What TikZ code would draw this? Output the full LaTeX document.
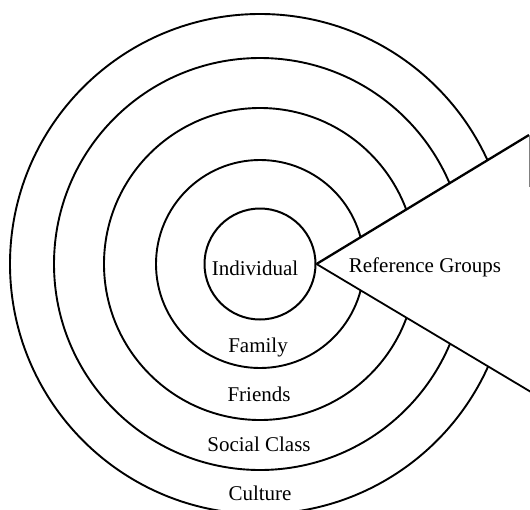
\documentclass[tikz,border=0pt]{standalone}
\usepackage{fontspec}
\setmainfont{Liberation Serif}
\begin{document}
\begin{tikzpicture}[x=1pt,y=-1pt,
  ring/.style={line width=1.9pt},
  wedgeline/.style={line width=1.8pt},
  lbl/.style={anchor=base,inner sep=0pt,font=\fontsize{21}{24}\selectfont}]
\useasboundingbox (0,0) rectangle (530,509);
% inner circle
\node[circle,draw,line width=2pt,minimum size=111pt,inner sep=0pt] (ind) at (260,264) {};
\node[lbl] (indt) at (255,275) {Individual};
% wedge end points
\coordinate (ut) at (529,135);
\coordinate (lt) at (531,392);
\coordinate (vb) at (529,187);
% rings, cut by the wedge
\begin{scope}[even odd rule]
  \clip (-20,-20) rectangle (560,540) (ind.east) -- (ut) -- (lt) -- cycle;
  \draw[ring] (260,264) circle[radius=104pt];
  \draw[ring] (260,264) circle[radius=156pt];
  \draw[ring] (260,264) circle[radius=206pt];
  \draw[ring] (260,264) circle[radius=250pt];
\end{scope}
% wedge
\draw[wedgeline,line width=2.3pt] (ind.east) -- (ut);
\draw[wedgeline] (ind.east) -- (lt);
\draw[gray,line width=0.6pt] (ut) -- (vb);
% labels
\node[lbl] (fam) at (258,352) {Family};
\node[lbl] (fri) at (259,401.5) {Friends};
\node[lbl] (soc) at (259,451.5) {Social Class};
\node[lbl] (cul) at (260,500) {Culture};
\node[lbl] (ref) at (425,272.5) {Reference Groups};
\end{tikzpicture}
\end{document}
